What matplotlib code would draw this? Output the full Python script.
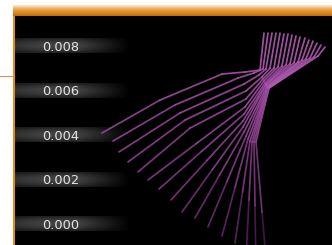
import numpy as np
import matplotlib
matplotlib.use("Agg")
import matplotlib.pyplot as plt
from matplotlib.collections import LineCollection
from matplotlib.colors import LinearSegmentedColormap
from matplotlib.lines import Line2D

# y axis ticks
tick_values = [0.000, 0.002, 0.004, 0.006, 0.008]
tick_labels = ["0.000", "0.002", "0.004", "0.006", "0.008"]

# 16 strands, each read as six points along its path
# x in arbitrary units, y in thousandths (x1e-3)
start_x = [10.2, 11.3, 11.9, 12.8, 13.8, 14.8, 15.9, 17.1, 18.2, 19.5, 20.8, 22.2, 23.5, 24.6, 25.6, 26.8]
start_y = [4.09, 3.73, 3.24, 2.79, 2.34, 1.98, 1.57, 1.08, 0.54, 0.27, -0.13, -0.54, -0.85, -1.53, -2.07, -2.61]

bend_x = [16.0, 17.5, 18.0, 18.5, 19.0, 19.65, 20.15, 20.7, 21.25, 21.95, 22.7, 23.5, 24.25, 24.9, 25.5, 26.2]
bend_y = [5.57, 5.35, 4.99, 4.67, 4.31, 3.62, 3.26, 2.86, 2.45, 2.20, 1.91, 1.64, 1.44, 1.08, 0.81, 0.54]

fold_x = [22.2, 23.8, 24.4, 24.6, 24.6, 24.5, 24.4, 24.3, 24.3, 24.4, 24.6, 24.8, 25.0, 25.2, 25.4, 25.6]
fold_y = [6.74, 6.56, 6.29, 5.98, 5.62, 5.26, 4.94, 4.63, 4.36, 4.13, 3.95, 3.82, 3.73, 3.69, 3.69, 3.69]

waist_x = [24.5, 25.4, 25.9, 26.2, 26.3, 26.4, 26.5, 26.6, 26.6, 26.7, 26.7, 26.8, 26.8, 26.8, 26.9, 26.9]
waist_y = [6.83, 6.79, 6.70, 6.61, 6.52, 6.43, 6.34, 6.29, 6.25, 6.20, 6.16, 6.16, 6.11, 6.11, 6.11, 6.11]

mid_x = [26.0, 26.3, 26.6, 27.0, 27.4, 27.8, 28.2, 28.6, 29.0, 29.4, 29.8, 30.2, 30.6, 31.0, 31.4, 31.8]
mid_y = [6.92, 6.97, 6.97, 7.01, 7.01, 7.06, 7.10, 7.15, 7.19, 7.24, 7.28, 7.37, 7.42, 7.46, 7.50, 7.55]

top_x = [26.4, 26.8, 27.2, 27.6, 28.0, 28.4, 28.8, 29.2, 29.6, 30.0, 30.5, 30.9, 31.3, 31.7, 32.1, 32.5]
top_y = [8.58, 8.58, 8.58, 8.58, 8.58, 8.54, 8.54, 8.49, 8.45, 8.40, 8.36, 8.27, 8.22, 8.13, 8.04, 7.95]

W, H = 332, 245
fig = plt.figure(figsize=(W / 100, H / 100), dpi=100)
fig.patch.set_facecolor("white")

ax = fig.add_axes([14 / W, 0, 318 / W, 229 / H])
ax.set_facecolor("black")

# gray gradient bars behind the tick labels
hx = np.linspace(0, 1, 120)
hprof = np.clip(np.minimum(0.75 + hx / 0.25 * 0.25, (1 - hx) / 0.45), 0, 1)
vy = np.linspace(0, 1, 16)
vprof = 0.5 + 0.5 * np.sin(np.pi * vy)
grad = 0.26 * np.outer(vprof, hprof)
grad_rgb = np.dstack([grad, grad, grad])
bar_h = 0.00066
for v in tick_values:
    ax.imshow(grad_rgb, extent=(1.4, 13.0, v - bar_h / 2, v + bar_h / 2),
              aspect="auto", interpolation="bilinear", zorder=0)

# strands
segs = []
seg_y = []
for i in range(len(start_x)):
    xs = [start_x[i], bend_x[i], fold_x[i], waist_x[i], mid_x[i], top_x[i]]
    ys = [start_y[i], bend_y[i], fold_y[i], waist_y[i], mid_y[i], top_y[i]]
    ys = [y * 1e-3 for y in ys]
    for k in range(len(xs) - 1):
        segs.append([(xs[k], ys[k]), (xs[k + 1], ys[k + 1])])
        seg_y.append((ys[k] + ys[k + 1]) / 2)

cmap = LinearSegmentedColormap.from_list(
    "strand", ["#4a1a50", "#843c86", "#a04ea2", "#c464c6"])
lc = LineCollection(segs, cmap=cmap, linewidths=1.25, alpha=0.85, zorder=2,
                    capstyle="round", joinstyle="round")
lc.set_array(np.array(seg_y))
lc.set_clim(-0.001, 0.0086)
ax.add_collection(lc)

ax.set_xlim(1.4, 33.2)
ax.set_ylim(-0.000944, 0.009348)
ax.set_xticks([])
ax.set_yticks(tick_values, tick_labels)
ax.tick_params(axis="y", length=0, pad=-20.5, labelcolor="#e6e6e6", labelsize=9.3)
for lbl in ax.get_yticklabels():
    lbl.set_horizontalalignment("left")

for s in ["top", "right", "bottom"]:
    ax.spines[s].set_visible(False)
ax.spines["left"].set_color("#e38a1e")
ax.spines["left"].set_linewidth(1.5)

# orange header strip
hdr = fig.add_axes([13 / W, 229 / H, 319 / W, 11 / H])
hcm = LinearSegmentedColormap.from_list(
    "hdr", ["#fbe4c6", "#f2b872", "#e89838", "#df8420", "#c46c10"])
hdr.imshow(np.linspace(0, 1, 11).reshape(-1, 1), cmap=hcm, aspect="auto",
           interpolation="bilinear")
hdr.axis("off")

fig.add_artist(Line2D([0, 14 / W], [1 - 76 / H, 1 - 76 / H],
                      transform=fig.transFigure, color="#d8904c", lw=0.8))

fig.savefig("out.png", dpi=100, facecolor="white")
